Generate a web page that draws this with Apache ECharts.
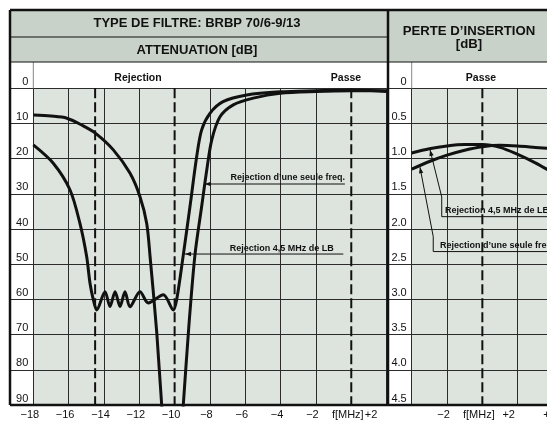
<!DOCTYPE html>
<html><head><meta charset="utf-8">
<script src="https://cdn.jsdelivr.net/npm/echarts@6/dist/echarts.min.js"></script>
<style>html,body{margin:0;padding:0;background:#fff}#c{width:547px;height:425px}</style>
</head><body><div id="c"></div>
<script>
// ---------- data ----------
const freqLabelsLeft = ['\u221218','\u221216','\u221214','\u221212','\u221210','\u22128','\u22126','\u22124','\u22122','f[MHz]','+2'];
const freqLabelsRight = ['', '\u22122', 'f[MHz]', '+2', '+4'];
const dashedLeft = [-14.5, -10, 0];
const dashedRight = [0];

// Attenuation, "Rejection d'une seule freq."
const singleFreqX = [-18, -17, -16.1, -15.2, -14.47, -13.47, -12.53, -11.96, -11.58, -11.39, -11.01, -10.73, -10.4, -10.1, -9.8, -9.51, -9.2, -8.85, -8.47, -8.18, -7.9, -7.43, -6.68, -5.55, -4.03, -2, 0, 2];
const singleFreqY = [7.6, 7.9, 8.5, 10.6, 12.8, 17.5, 24.1, 30.8, 38.4, 47.8, 69.5, 90.2, 110, 125, 110, 90, 68, 47.4, 33.6, 23.2, 14.7, 8.1, 4.7, 2.8, 1.4, 0.9, 0.7, 0.7];

// Attenuation, "Rejection 4,5 MHz de LB"
const lb45X = [-18, -16.87, -15.92, -15.36, -14.98, -14.79, -14.6, -14.41, -13.94, -13.66, -13.37, -13.09, -12.81, -12.53, -11.96, -11.49, -10.64, -10.07, -9.88, -9.51, -9.13, -8.75, -8.47, -8.0, -7.26, -5.92, -4.03, -2, 0, 2];
const lb45Y = [16.1, 21.3, 28.9, 38.4, 47.8, 55.4, 60.1, 63.0, 57.8, 62, 57.8, 62, 57.8, 62.1, 57.8, 61, 58.7, 63, 60, 47.4, 33.6, 19.4, 11.8, 7.1, 3.8, 1.9, 1.0, 0.7, 0.5, 0.9];

// Perte d'insertion
const ilX = [-4, -3, -2, -1, 0, 1, 2, 3, 4];
const il45Y = [0.92, 0.86, 0.82, 0.80, 0.80, 0.84, 0.94, 1.06, 1.20];
const ilSingleY = [1.15, 1.04, 0.95, 0.88, 0.83, 0.81, 0.82, 0.84, 0.86];

// ---------- style / layout ----------
const HEAD = '#c9d2c9', PLOT = '#dde3dd', INK = '#111', GRIDC = '#2b2b2b';
const FONT = 'Liberation Sans, Arial, sans-serif';
const TOP = 88.3, H = 316.7;
const zip = (xs, ys) => xs.map((x, i) => [x, ys[i]]);

function splitColors(min, max, step, dashed) {
  const c = [];
  for (let v = min; v <= max + 1e-9; v += step) c.push(dashed.includes(v) ? 'rgba(0,0,0,0)' : GRIDC);
  return c;
}
function xFormatter(min, labels) {
  return v => {
    const i = Math.round((v - min) / 2);
    const t = labels[i];
    if (!t) return '';
    if (t === '+2') return '{p|' + t + '}';
    return '{a|' + t + '}';
  };
}
const rich = pad => ({
  a: { fontSize: 11, fontFamily: FONT, color: INK, padding: [0, 7, 0, 0] },
  p: { fontSize: 11, fontFamily: FONT, color: INK, padding: [0, pad, 0, 0] }
});

const curve = (xi, yi, data) => ({
  type: 'line', xAxisIndex: xi, yAxisIndex: yi, data, smooth: 0.3, symbol: 'none',
  lineStyle: { color: INK, width: 3 }, clip: true, silent: true, z: 5
});
const dashLine = (xi, yi, x, ymax) => ({
  type: 'line', xAxisIndex: xi, yAxisIndex: yi, data: [[x, 0], [x, ymax]], symbol: 'none',
  lineStyle: { color: INK, width: 2, type: [10, 4] }, silent: true, z: 4
});

const baseGrid = { show: true, borderWidth: 0, containLabel: false, outerBoundsMode: 'none' };
const hiddenX = gi => ({ type: 'value', gridIndex: gi, min: 0, max: 1, show: false });
const yLabel = { margin: 5, verticalAlign: 'bottom', padding: [0, 0, 1, 0], fontSize: 11, fontFamily: FONT, color: INK, showMinLabel: true, showMaxLabel: true };

const option = {
  animation: false,
  grid: [
    Object.assign({ left: 10, top: TOP, width: 23.3, height: H, backgroundColor: '#fff' }, baseGrid),
    Object.assign({ left: 33.3, top: TOP, width: 353.3, height: H, backgroundColor: PLOT }, baseGrid),
    Object.assign({ left: 388, top: TOP, width: 23.7, height: H, backgroundColor: '#fff' }, baseGrid),
    Object.assign({ left: 411.7, top: TOP, width: 141.3, height: H, backgroundColor: PLOT }, baseGrid)
  ],
  xAxis: [
    hiddenX(0),
    { type: 'value', gridIndex: 1, min: -18, max: 2, interval: 2, position: 'bottom',
      axisLine: { show: false }, axisTick: { show: false },
      splitLine: { show: true, lineStyle: { color: splitColors(-18, 2, 2, dashedLeft), width: 1 } },
      axisLabel: { margin: 4, showMinLabel: true, showMaxLabel: true, formatter: xFormatter(-18, freqLabelsLeft), rich: rich(31) } },
    hiddenX(2),
    { type: 'value', gridIndex: 3, min: -4, max: 4, interval: 2, position: 'bottom',
      axisLine: { show: false }, axisTick: { show: false },
      splitLine: { show: true, lineStyle: { color: splitColors(-4, 4, 2, dashedRight), width: 1 } },
      axisLabel: { margin: 4, showMinLabel: true, showMaxLabel: true, formatter: xFormatter(-4, freqLabelsRight), rich: rich(18) } }
  ],
  yAxis: [
    { type: 'value', gridIndex: 0, min: 0, max: 90, interval: 10, inverse: true,
      axisLine: { show: false }, axisTick: { show: false }, axisLabel: { show: false },
      splitLine: { show: true, lineStyle: { color: GRIDC, width: 1 } } },
    { type: 'value', gridIndex: 1, min: 0, max: 90, interval: 10, inverse: true,
      axisLine: { show: false }, axisTick: { show: false }, axisLabel: yLabel,
      splitLine: { show: true, lineStyle: { color: GRIDC, width: 1 } } },
    { type: 'value', gridIndex: 2, min: 0, max: 4.5, interval: 0.5, inverse: true,
      axisLine: { show: false }, axisTick: { show: false }, axisLabel: { show: false },
      splitLine: { show: true, lineStyle: { color: GRIDC, width: 1 } } },
    { type: 'value', gridIndex: 3, min: 0, max: 4.5, interval: 0.5, inverse: true,
      axisLine: { show: false }, axisTick: { show: false },
      axisLabel: Object.assign({}, yLabel, { formatter: v => (v === 0 ? '0' : v.toFixed(1)) }),
      splitLine: { show: true, lineStyle: { color: GRIDC, width: 1 } } }
  ],
  series: [
    ...dashedLeft.map(x => dashLine(1, 1, x, 90)),
    ...dashedRight.map(x => dashLine(3, 3, x, 4.5)),
    curve(1, 1, zip(singleFreqX, singleFreqY)),
    curve(1, 1, zip(lb45X, lb45Y)),
    curve(3, 3, zip(ilX, il45Y)),
    curve(3, 3, zip(ilX, ilSingleY))
  ]
};

const chart = echarts.init(document.getElementById('c'), null, { renderer: 'canvas' });
chart.setOption(option);

// ---------- header table & annotations ----------
const g = [];
const rect = (x, y, w, h, fill) => g.push({ type: 'rect', shape: { x, y, width: w, height: h }, style: { fill }, z: 1, silent: true });
const line = (pts, w, c, z) => g.push({ type: 'polyline', shape: { points: pts }, style: { stroke: c || INK, lineWidth: w, fill: null }, z: z || 100, silent: true });
const text = (x, y, t, font, align) => g.push({ type: 'text', x, y, style: { text: t, font, fill: INK, align: align || 'center', verticalAlign: 'middle' }, z: 60, silent: true });
function arrow(tip, from, len, hw) {
  len = len || 6; hw = hw || 2.2;
  const dx = tip[0] - from[0], dy = tip[1] - from[1], L = Math.hypot(dx, dy), ux = dx / L, uy = dy / L;
  const bx = tip[0] - ux * len, by = tip[1] - uy * len;
  g.push({ type: 'polygon', shape: { points: [tip, [bx - uy * hw, by + ux * hw], [bx + uy * hw, by - ux * hw]] }, style: { fill: INK }, z: 60, silent: true });
}

rect(10, 10, 378, 52, HEAD);
rect(388, 10, 159, 52, HEAD);

text(197, 23.5, 'TYPE DE FILTRE: BRBP 70/6-9/13', 'bold 13px ' + FONT);
text(197, 50, 'ATTENUATION [dB]', 'bold 13px ' + FONT);
text(469, 31, 'PERTE D\u2019INSERTION', 'bold 13.2px ' + FONT);
text(469, 44.5, '[dB]', 'bold 13.2px ' + FONT);
text(138, 78.5, 'Rejection', 'bold 10.5px ' + FONT);
text(346, 78.5, 'Passe', 'bold 10.5px ' + FONT);
text(481, 78.5, 'Passe', 'bold 10.5px ' + FONT);

line([[33.3, 62], [33.3, 88.3]], 1, '#888', 40);
line([[411.7, 62], [411.7, 88.3]], 1, '#888', 40);
line([[10, 37], [388, 37]], 1.2);
line([[10, 62], [547, 62]], 1.2);
line([[10, 10], [547, 10]], 2.5);
line([[10, 10], [10, 405]], 2.5);
line([[388, 10], [388, 405]], 2.5);
line([[10, 405], [547, 405]], 2.5);

// annotations in data coordinates
const P = (gi, pt) => chart.convertToPixel({ gridIndex: gi }, pt);
const annFont = 'bold 9px ' + FONT;
const annotations = [
  { gi: 1, path: [[-8.29, 27.2], [-0.36, 27.2]], label: 'Rejection d\u2019une seule freq.', at: [-3.6, 25.4], align: 'center' },
  { gi: 1, path: [[-9.41, 47.1], [-0.45, 47.1]], label: 'Rejection 4,5 MHz de LB', at: [-3.94, 45.4], align: 'center' },
  { gi: 3, path: [[-2.96, 0.876], [-2.30, 1.544], [-2.30, 1.824], [4.4, 1.824]], label: 'Rejection 4,5 MHz de LB', at: [-2.11, 1.735], align: 'left' },
  { gi: 3, path: [[-3.53, 1.122], [-2.78, 2.108], [-2.78, 2.32], [4.4, 2.32]], label: 'Rejection d\u2019une seule freq.', at: [-2.40, 2.235], align: 'left' }
];
annotations.forEach(a => {
  const pts = a.path.map(p => P(a.gi, p));
  line(pts, 1, INK, 55);
  arrow(pts[0], pts[1], 6, 2.2);
  const tp = P(a.gi, a.at);
  text(tp[0], tp[1], a.label, annFont, a.align);
});

chart.setOption({ graphic: { elements: g } });
</script></body></html>
